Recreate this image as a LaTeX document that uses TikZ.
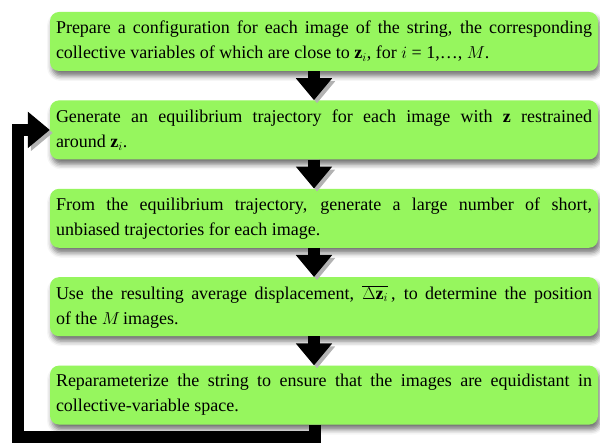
\documentclass[tikz,border=0pt]{standalone}
\usepackage{fontspec}
\setmainfont{Liberation Serif}
\hyphenpenalty=10000
\definecolor{stepgreen}{HTML}{96F65E}
\usetikzlibrary{arrows.meta,positioning,shadows.blur}

\begin{document}
\begin{tikzpicture}[
    x=1pt, y=1pt,
    node distance=29pt,
    stage/.style={rectangle, rounded corners=9pt, fill=stepgreen,
                text width=536pt, inner xsep=6pt, minimum height=59pt, align=justify,
                font=\fontsize{18}{25}\selectfont,
                blur shadow={shadow xshift=2pt, shadow yshift=-5pt,
                             shadow blur radius=5pt, shadow opacity=55}},
    flow/.style={line width=12pt, -{Triangle[width=35pt,length=22pt]},
                preaction={draw=black!30, transform canvas={shift={(3pt,-3pt)}}}}
]
    \useasboundingbox (0,0) rectangle (600,442);

    \node[stage] (prep) at (324,400.5) {Prepare a configuration for each image of the string, the corresponding\linebreak collective variables of which are close to $\mathbf{z}_i$, for $i$ = 1,…, $M$.};
    \node[stage, below=of prep] (equil) {Generate an equilibrium trajectory for each image with $\mathbf{z}$ restrained\linebreak around $\mathbf{z}_i$.};
    \node[stage, below=of equil] (short) {From the equilibrium trajectory, generate a large number of short,\linebreak unbiased trajectories for each image.};
    \node[stage, below=of short] (move) {Use the resulting average displacement, $\overline{\Delta\mathbf{z}_i}$\,, to determine the position\linebreak of the $M$\,images.};
    \node[stage, below=of move] (repar) {Reparameterize the string to ensure that the images are equidistant in\linebreak collective-variable space.};

    \draw[flow] ([xshift=-10pt]prep.south) -- ([xshift=-10pt]equil.north);
    \draw[flow] ([xshift=-10pt]equil.south) -- ([xshift=-10pt]short.north);
    \draw[flow] ([xshift=-10pt]short.south) -- ([xshift=-10pt]move.north);
    \draw[flow] ([xshift=-10pt]move.south) -- ([xshift=-10pt]repar.north);

    % loop back to the second step
    \coordinate (corner) at (17.5,5);
    \draw[flow] ([xshift=-9pt]repar.south) |- (corner) |- (equil.west);
\end{tikzpicture}
\end{document}
